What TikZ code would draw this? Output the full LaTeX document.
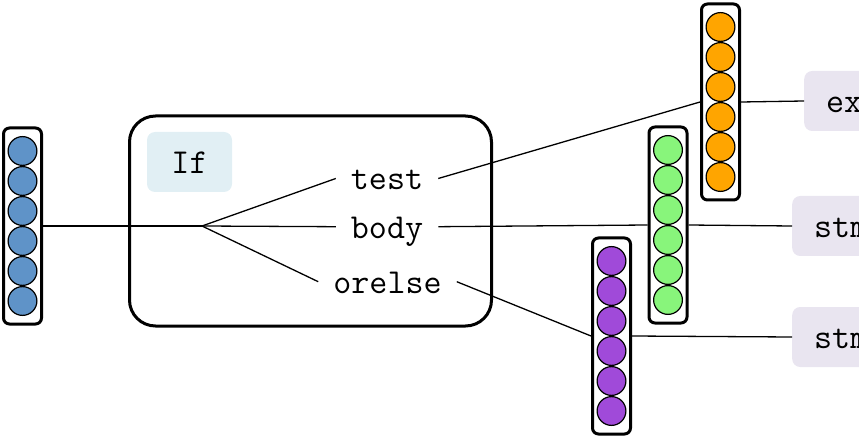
\documentclass[tikz,border=0pt]{standalone}
\usetikzlibrary{positioning, fit}

\definecolor{VecBlue}{HTML}{5F93C8}
\definecolor{VecOrange}{HTML}{FFA500}
\definecolor{VecGreen}{HTML}{88F57B}
\definecolor{VecPurple}{HTML}{A04AD9}
\definecolor{IfFill}{HTML}{E1EFF4}
\definecolor{TypeFill}{HTML}{E9E5F0}

\tikzset{
    % Monospace text everywhere
    every node/.style={font=\fontsize{35}{40}\selectfont\ttfamily},
    % One unit of a vector
    unit/.style={
        circle,
        draw=black,
        line width=1.2pt,
        minimum size=28.8pt,
        inner sep=0pt
    },
    % Frame round a vector
    vecbox/.style={
        rectangle,
        draw=black,
        line width=3pt,
        rounded corners=6pt,
        inner xsep=4pt,
        inner ysep=8pt
    },
    % Outer If node
    ifbox/.style={
        rectangle,
        draw=black,
        line width=3pt,
        rounded corners=26pt,
        minimum width=362pt,
        minimum height=210pt
    },
    % Name tag of the If node
    iflabel/.style={
        rectangle,
        fill=IfFill,
        rounded corners=8pt,
        minimum width=85pt,
        minimum height=60pt,
        text height=25pt,
        text depth=2pt
    },
    % Field name
    field/.style={
        inner xsep=15pt,
        inner ysep=0pt,
        text height=25pt,
        text depth=2pt
    },
    % Type box on the right
    typebox/.style={
        rectangle,
        fill=TypeFill,
        rounded corners=8pt,
        anchor=west,
        inner xsep=22pt,
        minimum height=60pt,
        text height=25pt,
        text depth=2pt
    },
    % Connector
    link/.style={
        draw=black,
        line width=1.3pt
    }
}

\begin{document}
\begin{tikzpicture}[x=1pt, y=-1pt]
    \useasboundingbox (0,0) rectangle (859,438);
    \clip (0,0) rectangle (859,438);

    % If node
    \node (ifnode) [ifbox] at (310.5,221) {};
    \node (iftag) [iflabel] at (189.5,162) {If};
    \node (test) [field] at (387,178.5) {test};
    \node (body) [field] at (387,226.7) {body};
    \node (orelse) [field] at (387.5,281.7) {orelse};
    \coordinate (branch) at (202,226);

    % Vectors
    \foreach \vname/\vx/\vy/\vcol in {vin/22.5/151/VecBlue, vtest/720.5/27/VecOrange,
            vbody/668/150/VecGreen, velse/611.5/261/VecPurple} {
        \foreach \i in {0,...,5}
            \node (\vname-\i) [unit, fill=\vcol] at (\vx,{\vy+30*\i}) {};
        \node (\vname) [vecbox, fit=(\vname-0)(\vname-5)] {};
    }

    % Types
    \node (expr) [typebox] at (804,101) {expr};
    \node (stmta) [typebox] at (792,226) {stmt};
    \node (stmtb) [typebox] at (792,337) {stmt};

    \draw [link] (vin.east) -- (branch);
    \draw [link] (branch) -- (test.west);
    \draw [link] (branch) -- (body.west);
    \draw [link] (branch) -- (orelse.west);
    \draw [link] (test.east) -- (vtest.west);
    \draw [link] (body.east) -- (vbody.west);
    \draw [link] (orelse.east) -- (velse.west);
    \draw [link] (vtest.east) -- (expr.west);
    \draw [link] (vbody.east) -- (stmta.west);
    \draw [link] (velse.east) -- (stmtb.west);
\end{tikzpicture}
\end{document}
